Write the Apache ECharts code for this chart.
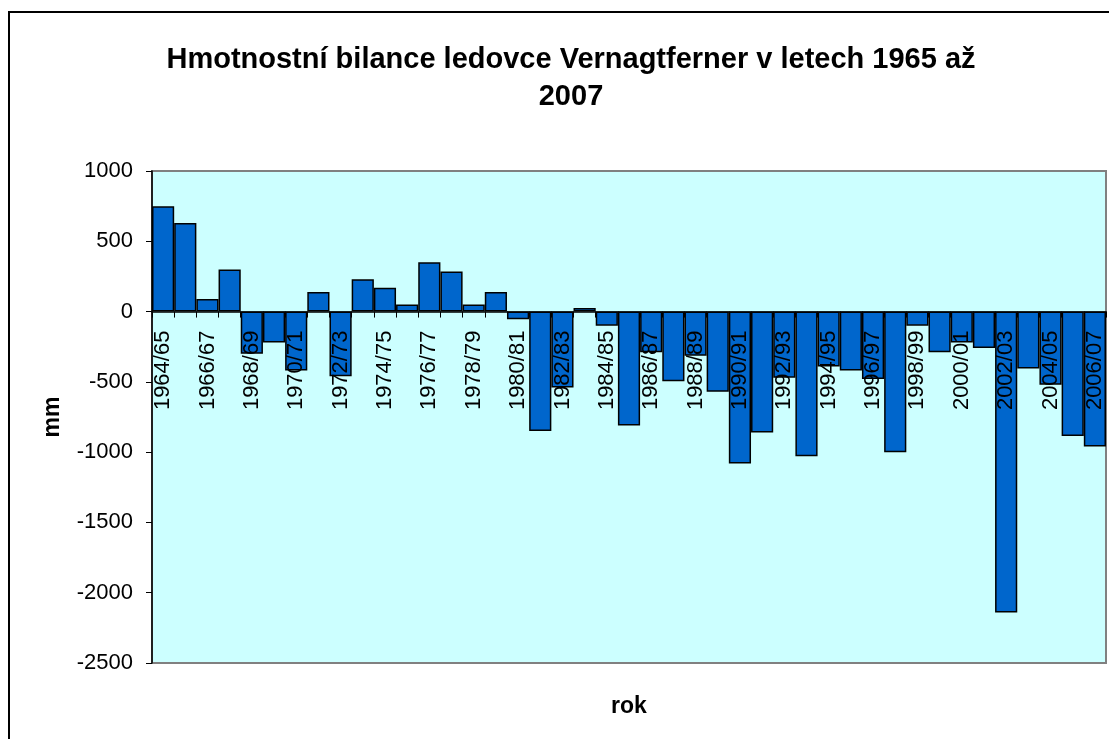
<!DOCTYPE html>
<html>
<head>
<meta charset="utf-8">
<script src="https://cdn.jsdelivr.net/npm/echarts@6/dist/echarts.min.js"></script>
<style>
html,body{margin:0;padding:0;background:#fff;}
#chart{width:1109px;height:739px;}
</style>
</head>
<body>
<div id="chart"></div>
<script>
const categories = ["1964/65","1965/66","1966/67","1967/68","1968/69","1969/70","1970/71","1971/72","1972/73","1973/74","1974/75","1975/76","1976/77","1977/78","1978/79","1979/80","1980/81","1981/82","1982/83","1983/84","1984/85","1985/86","1986/87","1987/88","1988/89","1989/90","1990/91","1991/92","1992/93","1993/94","1994/95","1995/96","1996/97","1997/98","1998/99","1999/00","2000/01","2001/02","2002/03","2003/04","2004/05","2005/06","2006/07"];
const massBalance = [750,630,90,300,-300,-220,-420,140,-460,230,170,50,350,285,50,140,-55,-850,-540,25,-100,-810,-290,-495,-315,-570,-1080,-860,-470,-1030,-390,-420,-480,-1000,-100,-290,-220,-260,-2140,-405,-520,-885,-960];
const yTicks = {min:-2500, max:1000, interval:500};
const titleText = "Hmotnostní bilance ledovce Vernagtferner v letech 1965 až\n2007";
const xName = "rok";
const yName = "mm";

const W = 1109, H = 739;
const gridL = 152, gridT = 171, gridR = 3, gridB = 76;
const plotH = H - gridT - gridB;
const zeroY = gridT + plotH * (yTicks.max - 0) / (yTicks.max - yTicks.min);
const xOffset = -((H - gridB) - zeroY);

const chart = echarts.init(document.getElementById('chart'), null, {renderer:'canvas'});
const font = 'Arial, "Liberation Sans", sans-serif';
chart.setOption({
  backgroundColor:'#ffffff',
  animation:false,
  title:{
    text:titleText,
    left:566, top:36, textAlign:'center',
    textStyle:{fontFamily:font, fontSize:29, fontWeight:'bold', color:'#000', lineHeight:37}
  },
  graphic:[{
    type:'rect', shape:{x:9, y:12, width:1200, height:800},
    style:{fill:'none', stroke:'#000', lineWidth:2}, silent:true, z:100
  }],
  grid:{left:gridL, top:gridT, right:gridR, bottom:gridB, outerBoundsMode:'none', containLabel:false,
        show:true, backgroundColor:'#CCFFFF', borderColor:'#808080', borderWidth:2},
  xAxis:{
    type:'category', data:categories, offset:xOffset, z:10,
    name:xName, nameLocation:'middle', nameGap:384,
    nameTextStyle:{fontFamily:font, fontSize:23, fontWeight:'bold', color:'#000'},
    axisLine:{onZero:false, lineStyle:{color:'#000', width:1.5}},
    axisTick:{show:true, interval:0, length:6, lineStyle:{color:'#000'}},
    axisLabel:{interval:1, rotate:90, margin:19, fontFamily:font, fontSize:22, color:'#000'}
  },
  yAxis:{
    type:'value', min:yTicks.min, max:yTicks.max, interval:yTicks.interval,
    name:yName, nameLocation:'middle', nameGap:88, nameRotate:90,
    nameTextStyle:{fontFamily:font, fontSize:23, fontWeight:'bold', color:'#000'},
    axisLine:{show:true, lineStyle:{color:'#000', width:1.5}},
    axisTick:{show:true, length:6, lineStyle:{color:'#000'}},
    splitLine:{show:false},
    axisLabel:{margin:19, fontFamily:font, fontSize:22, color:'#000', formatter:v => String(v)}
  },
  series:[{
    type:'bar', data:massBalance, barCategoryGap:'0%',
    itemStyle:{color:'#0066CC', borderColor:'#000', borderWidth:1.5}
  }]
});
</script>
</body>
</html>
